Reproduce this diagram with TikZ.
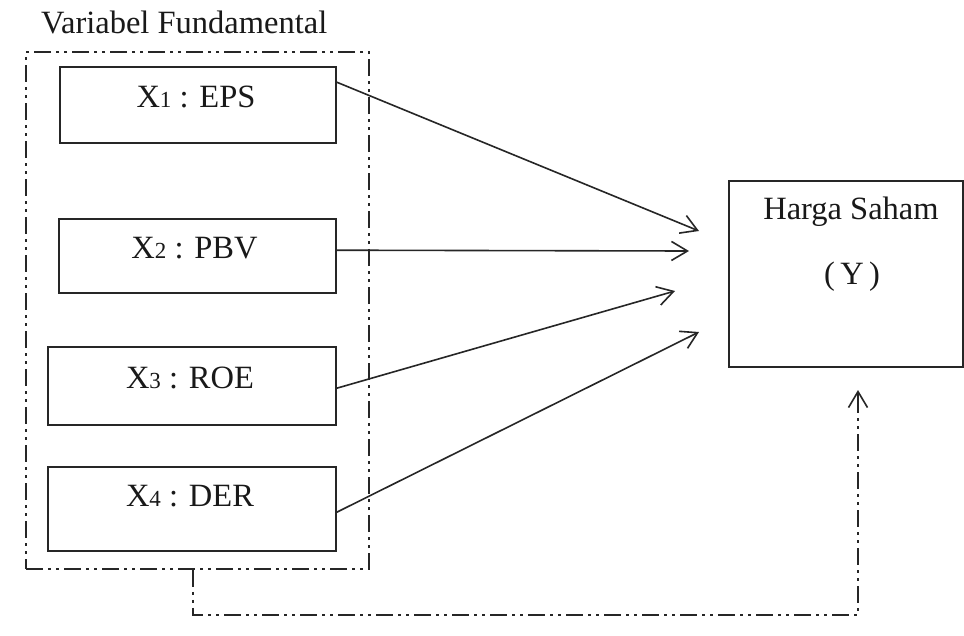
\documentclass[tikz,border=0pt]{standalone}
\usepackage{fontspec}
\setmainfont{Liberation Serif}
\usetikzlibrary{arrows.meta,calc}
\begin{document}
\begin{tikzpicture}[x=1pt,y=-1pt,
  box/.style={draw=black!85,line width=1.6pt,rectangle,inner sep=0pt},
  lbl/.style={inner sep=0pt,font=\fontsize{32.5}{38}\selectfont,text=black!90,anchor=base},
  ddot/.style={draw=black!85,line width=1.7pt,dash pattern=on 17pt off 5pt on 3pt off 5pt on 3pt off 5pt},
  arr/.style={draw=black!85,line width=1.6pt,-{Straight Barb[length=16pt,width=19pt,line width=1.6pt]}}
]
\fill[white] (0,0) rectangle (964,635);
\useasboundingbox (0,0) rectangle (964,635);
\newcommand{\sdig}[1]{{\fontsize{23}{26}\selectfont #1}}
% group
\node[ddot,rectangle,inner sep=0pt,minimum width=343pt,minimum height=517pt] (grp) at (197.5,310.5) {};
\node[lbl,anchor=base west] (title) at (41,33) {Variabel Fundamental};
% boxes
\node[box,minimum width=276pt,minimum height=76pt] (x1) at (198,105) {};
\node[box,minimum width=277pt,minimum height=74pt] (x2) at (197.5,256) {};
\node[box,minimum width=288pt,minimum height=78pt] (x3) at (192,386) {};
\node[box,minimum width=288pt,minimum height=84pt] (x4) at (192,509) {};
\node[box,minimum width=234pt,minimum height=186pt] (y) at (846,274) {};
% labels
\node[lbl] (l1) at ($(x1.north)+(-2,41)$) {X\sdig{1} : EPS};
\node[lbl] (l2) at ($(x2.north)+(-3,40)$) {X\sdig{2} : PBV};
\node[lbl] (l3) at ($(x3.north)+(-2,42)$) {X\sdig{3} : ROE};
\node[lbl] (l4) at ($(x4.north)+(-2,40)$) {X\sdig{4} : DER};
\node[lbl] (ly1) at ($(y.north)+(5,39)$) {Harga Saham};
\node[lbl] (ly2) at ($(y.north)+(6,104)$) {(\,Y\,)};
% arrow tips
\coordinate (t1) at (699,231);
\coordinate (t2) at (689,251);
\coordinate (t3) at (675,291);
\coordinate (t4) at (699,332);
\coordinate (fb) at (858,390);
\draw[arr] ($(x1.north east)+(0,16)$) -- (t1);
\draw[arr] ($(x2.north east)+(0,32)$) -- (t2);
\draw[arr] ($(x3.north east)+(0,42)$) -- (t3);
\draw[arr] ($(x4.north east)+(0,46)$) -- (t4);
% feedback
\draw[ddot] ($(grp.south)+(-4.5,0)$) -- ++(0,45) -| ($(fb)+(0,4)$);
\draw[draw=black!85,line width=1.6pt,-{Straight Barb[length=16pt,width=19pt,line width=1.6pt]}] ($(fb)+(0,10)$) -- (fb);
\end{tikzpicture}
\end{document}
